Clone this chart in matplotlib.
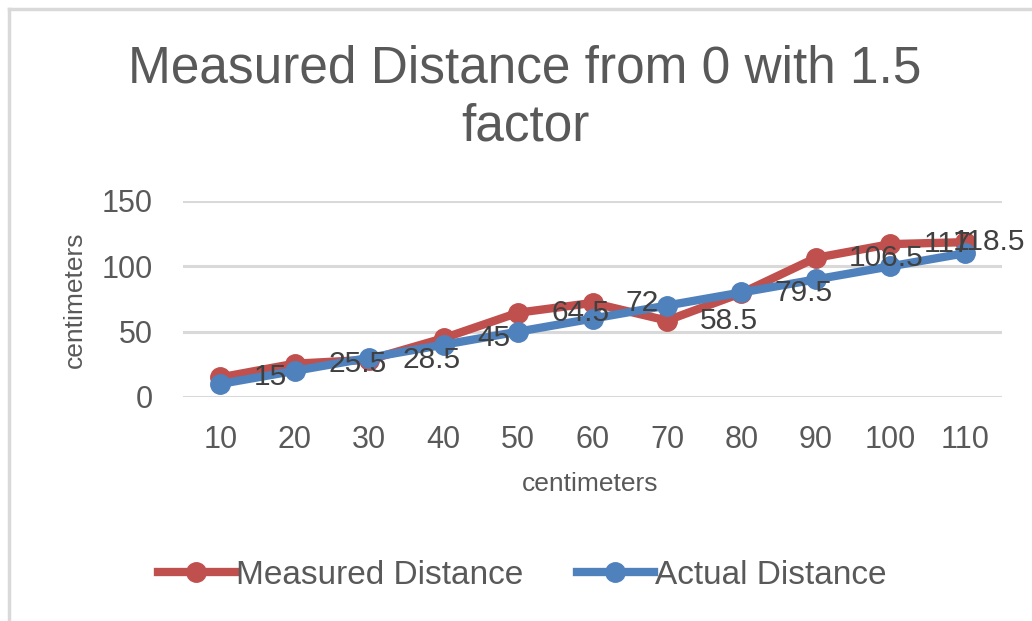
import matplotlib
matplotlib.use("Agg")
import matplotlib.pyplot as plt
from matplotlib.lines import Line2D

plt.rcParams['font.family'] = ['Liberation Sans', 'DejaVu Sans']

# distances in centimeters
categories = ["10", "20", "30", "40", "50", "60", "70", "80", "90", "100", "110"]
measured = [15, 25.5, 28.5, 45, 64.5, 72, 58.5, 79.5, 106.5, 117, 118.5]
actual = [10, 20, 30, 40, 50, 60, 70, 80, 90, 100, 110]
y_ticks = [0, 50, 100, 150]

red = "#C0504D"
blue = "#4F81BD"
txt = "#595959"
grid = "#D9D9D9"

W, H = 1032, 621
fig = plt.figure(figsize=(W / 100, H / 100), dpi=100)
ax = fig.add_axes([183 / W, 1 - 397 / H, 819 / W, 196 / H])

xs = list(range(len(categories)))
ax.plot(xs, measured, color=red, lw=6, marker="o", ms=14,
        solid_capstyle="round", zorder=3)
ax.plot(xs, actual, color=blue, lw=6, marker="o", ms=14,
        solid_capstyle="round", zorder=4)

# labels sit right of each point; the last one is pulled back inside the chart
for x, v in zip(xs, measured):
    dx = 24 if x < len(xs) - 1 else -9
    ax.annotate(f"{v:g}", (x, v), xytext=(dx, 0), textcoords="offset points",
                ha="left", va="center", fontsize=21.5, color="#404040", zorder=5,
                annotation_clip=False)

ax.set_xlim(-0.5, len(categories) - 0.5)
ax.set_ylim(0, 150)
ax.set_yticks(y_ticks)
ax.set_xticks(xs)
ax.set_xticklabels(categories)
ax.tick_params(axis="both", length=0, labelsize=22, labelcolor=txt)
ax.tick_params(axis="x", pad=20)
ax.tick_params(axis="y", pad=22)
ax.yaxis.grid(True, color=grid, lw=2.2)
ax.set_axisbelow(True)
for s in ax.spines.values():
    s.set_visible(False)

fig.text(525 / W, 1 - 98 / H, "Measured Distance from 0 with 1.5\nfactor",
         ha="center", va="center", fontsize=37, color=txt, linespacing=1.25)
fig.text(590 / W, 1 - 484 / H, "centimeters", ha="center", va="center",
         fontsize=19, color=txt)
fig.text(75 / W, 1 - 300 / H, "centimeters", ha="center", va="center",
         fontsize=19, color=txt, rotation=90)

handles = [Line2D([], [], color=red, lw=6, marker="o", ms=14),
           Line2D([], [], color=blue, lw=6, marker="o", ms=14)]
fig.legend(handles, ["Measured Distance", "Actual Distance"],
           loc="center left", bbox_to_anchor=(158 / W, 1 - 575 / H),
           frameon=False, ncol=2, fontsize=24, labelcolor=txt,
           handlelength=2.3, handletextpad=0.05, columnspacing=1.6,
           borderpad=0, borderaxespad=0)

# outer chart frame
fig.add_artist(Line2D([9 / W, 9 / W], [0, 1 - 9 / H], color=grid, lw=2.5,
                      transform=fig.transFigure))
fig.add_artist(Line2D([9 / W, 1], [1 - 9 / H, 1 - 9 / H], color=grid, lw=2.5,
                      transform=fig.transFigure))

fig.savefig("out.png", dpi=100, facecolor="white")
